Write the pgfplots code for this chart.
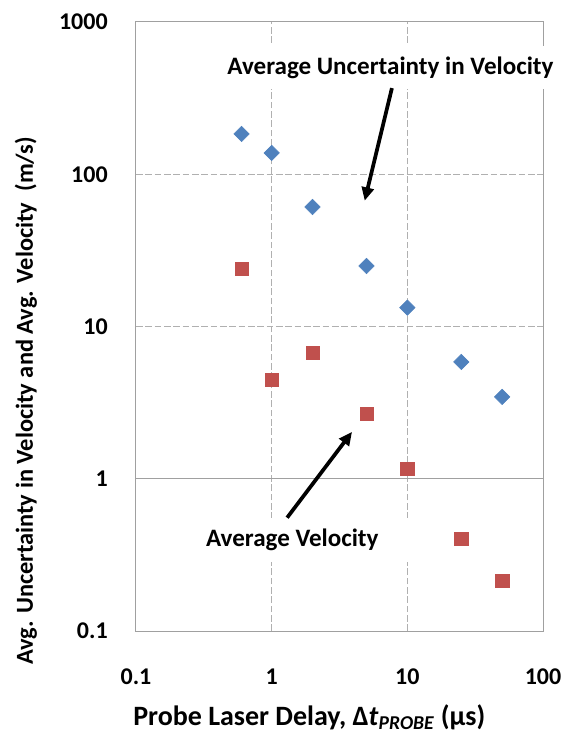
\documentclass[border=0pt]{standalone}
\usepackage{fontspec}
\setmainfont{Carlito}
\usepackage{pgfplots}
\pgfplotsset{compat=1.18}
\usetikzlibrary{arrows.meta,calc}
\definecolor{serblue}{HTML}{4F81BD}
\definecolor{serred}{HTML}{C0504D}
\definecolor{gridgray}{HTML}{B0B0B0}
\definecolor{axgray}{HTML}{A0A0A0}

\begin{document}
\begin{tikzpicture}[font=\fontsize{18}{21.6}\selectfont\bfseries]
\begin{loglogaxis}[
  name=ax, at={(0,0)}, anchor=south west,
  scale only axis, width=305.25pt, height=456.75pt,
  xmin=0.1, xmax=100, ymin=0.1, ymax=1000,
  xtick={0.1,1,10,100}, xticklabels={0.1,1,10,100},
  ytick={0.1,1,10,100,1000}, yticklabels={0.1,1,10,100,1000},
  xminorticks=false, yminorticks=false,
  major tick length=0pt,
  tick style={draw=none},
  axis line style={draw=axgray, line width=0.75pt},
  grid=major,
  major grid style={draw=gridgray, dash pattern=on 5pt off 2pt, line width=0.75pt},
  xticklabel style={anchor=center, yshift=-34.5pt, inner sep=0pt},
  yticklabel style={anchor=east, xshift=-21pt, inner sep=0pt},
  clip=false,
  /pgf/number format/assume math mode=true,
]
\draw[axgray, line width=0.75pt] (axis cs:0.1,1) -- (axis cs:100,1);

\addplot[only marks, mark=square*, mark size=4.1pt,
  mark options={rotate=45, fill=serblue, draw=serblue, line width=0.4pt}]
  coordinates {(0.6,184) (1,138) (2,61) (5,25) (10,13.3) (25,5.85) (50,3.45)};

\addplot[only marks, mark=square*, mark size=5pt,
  mark options={fill=serred, draw=serred, line width=0.4pt}]
  coordinates {(0.6,24) (1,4.45) (2,6.75) (5,2.68) (10,1.16) (25,0.405) (50,0.213)};

\node[fill=white, inner xsep=25pt, inner ysep=8pt, font=\fontsize{18.8}{22}\selectfont\bfseries] at (axis cs:7.51,502) {Average Uncertainty in Velocity};
\node[fill=white, inner xsep=25pt, inner ysep=8pt, font=\fontsize{18.8}{22}\selectfont\bfseries] at (axis cs:1.42,0.396) {Average Velocity};

\draw[line width=2.8pt, -{Triangle[length=10pt,width=9pt]}] (axis cs:7.7,368) -- (axis cs:4.85,67);
\draw[line width=2.8pt, -{Triangle[length=10pt,width=9pt]}] (axis cs:1.30,0.555) -- (axis cs:3.91,2.03);
\end{loglogaxis}

\node[rotate=90, anchor=base west, inner sep=0pt, font=\fontsize{18.3}{22}\selectfont\bfseries] at (-77.25pt,-25.5pt)
  {Avg. Uncertainty in Velocity and Avg. Velocity\ \ (m/s)};
\node[anchor=base west, inner sep=0pt, font=\fontsize{21}{25}\selectfont\bfseries] at (-2.25pt,-71pt)
  {Probe Laser Delay, Δ\textit{t}\textsubscript{\textit{PROBE}} (µs)};

\pgfresetboundingbox
\path[use as bounding box] (-102pt,-78.75pt) rectangle (323.25pt,473.25pt);
\end{tikzpicture}
\end{document}
